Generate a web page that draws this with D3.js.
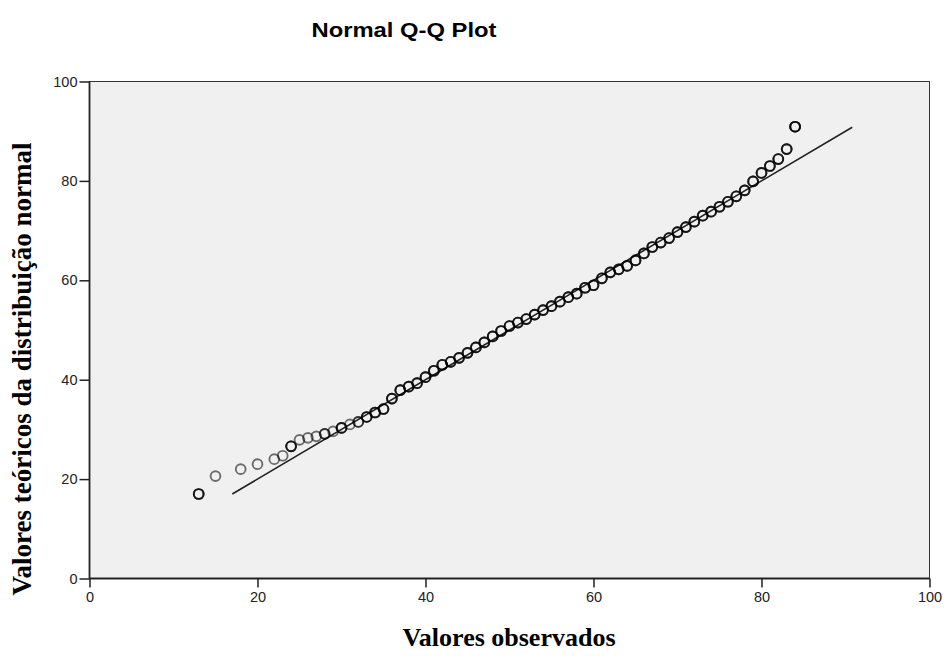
<!DOCTYPE html>
<html>
<head>
<meta charset="utf-8">
<script src="https://cdn.jsdelivr.net/npm/d3@7"></script>
<style>
  body { margin: 0; background: #fff; }
  svg { display: block; }
</style>
</head>
<body>
<svg id="chart" width="946" height="656"></svg>
<script>
// valores observados (x) e valores esperados da normal (y)
const observed = [13, 15, 18, 20, 22, 23, 24, 25, 26, 27, 28, 29, 30, 31, 32, 33, 34, 35,
    36, 37, 38, 39, 40, 41, 42, 43, 44, 45, 46, 47, 48, 49, 50, 51, 52, 53, 54, 55,
    56, 57, 58, 59, 60, 61, 62, 63, 64, 65, 66, 67, 68, 69, 70, 71, 72, 73, 74, 75,
    76, 77, 78, 79, 80, 81, 82, 83, 84];
const expected = [17.0, 20.6, 22.0, 23.0, 24.0, 24.7, 26.6, 27.9, 28.3, 28.6, 29.1, 29.6, 30.3, 31.0, 31.5, 32.5, 33.4, 34.1,
    36.2, 37.9, 38.6, 39.3, 40.5, 41.8, 43.0, 43.6, 44.4, 45.4, 46.5, 47.5, 48.7, 49.8, 50.8, 51.5, 52.2, 53.1, 54.0, 54.8,
    55.7, 56.6, 57.3, 58.5, 59.0, 60.4, 61.6, 62.2, 62.9, 64.0, 65.4, 66.7, 67.6, 68.5, 69.7, 70.7, 71.8, 73.0, 73.8, 74.8,
    75.8, 76.9, 78.1, 79.9, 81.6, 83.0, 84.4, 86.4, 90.9];
// quantas vezes cada ponto se sobrepõe (mais escuro = mais casos)
const counts = [3, 1, 1, 1, 1, 1, 3, 1, 1, 1, 2, 1, 3, 1, 2, 3, 3, 3,
    3, 3, 3, 3, 3, 3, 3, 3, 3, 3, 3, 3, 3, 3, 3, 3, 3, 3, 3, 3,
    3, 3, 3, 3, 3, 3, 3, 3, 3, 3, 3, 3, 3, 3, 3, 3, 3, 3, 3, 3,
    3, 3, 3, 3, 3, 3, 3, 3, 4];
// linha de referência normal
const lineX = [17.0, 90.8];
const lineY = [17.0, 90.8];
const ticks = [0, 20, 40, 60, 80, 100];

const svg = d3.select("#chart");
const plotL = 89.5, plotR = 929.5, plotT = 81.5, plotB = 578.5;

const x = d3.scaleLinear().domain([0, 100]).range([plotL, plotR]);
const y = d3.scaleLinear().domain([0, 100]).range([plotB, plotT]);

// fundo da área do gráfico
svg.append("rect")
    .attr("x", plotL).attr("y", plotT)
    .attr("width", plotR - plotL).attr("height", plotB - plotT)
    .attr("fill", "#f0f0f0")
    .attr("stroke", "#333")
    .attr("stroke-width", 1);

// eixos
const xAxis = svg.append("g")
    .attr("transform", `translate(0,${plotB})`)
    .call(d3.axisBottom(x).tickValues(ticks).tickSize(9).tickPadding(4));
const yAxis = svg.append("g")
    .attr("transform", `translate(${plotL},0)`)
    .call(d3.axisLeft(y).tickValues(ticks).tickSize(10).tickPadding(2));

[xAxis, yAxis].forEach(g => {
    g.select(".domain").attr("stroke", "#222").attr("stroke-width", 1.8);
    g.selectAll(".tick line").attr("stroke", "#222").attr("stroke-width", 1.5);
    g.selectAll(".tick text")
        .attr("fill", "#222")
        .style("font-family", "'Liberation Sans', Arial, sans-serif")
        .style("font-size", "14.5px");
});
xAxis.select(".domain").attr("d", `M${plotL},0H${plotR}`);
yAxis.select(".domain").attr("d", `M0,${plotB}V${plotT}`);

// linha de referência
svg.append("line")
    .attr("x1", x(lineX[0])).attr("y1", y(lineY[0]))
    .attr("x2", x(lineX[1])).attr("y2", y(lineY[1]))
    .attr("stroke", "#222")
    .attr("stroke-width", 1.6);

// pontos (desenhados uma vez por caso sobreposto)
const pts = observed.flatMap((d, i) => d3.range(counts[i]).map(() => ({ x: d, y: expected[i] })));
svg.append("g")
    .selectAll("circle")
    .data(pts)
    .enter().append("circle")
    .attr("cx", d => x(d.x))
    .attr("cy", d => y(d.y))
    .attr("r", 4.9)
    .attr("fill", "none")
    .attr("stroke", "#000")
    .attr("stroke-opacity", 0.55)
    .attr("stroke-width", 1.9);

// títulos
svg.append("text")
    .attr("x", 404).attr("y", 37)
    .attr("text-anchor", "middle")
    .attr("textLength", 185)
    .attr("lengthAdjust", "spacingAndGlyphs")
    .style("font-family", "'Liberation Sans', Arial, sans-serif")
    .style("font-weight", "bold")
    .style("font-size", "21px")
    .text("Normal Q-Q Plot");

svg.append("text")
    .attr("x", 509).attr("y", 646)
    .attr("text-anchor", "middle")
    .style("font-family", "'Liberation Serif', 'Times New Roman', serif")
    .style("font-weight", "bold")
    .style("font-size", "26px")
    .text("Valores observados");

svg.append("text")
    .attr("transform", "translate(31,369) rotate(-90)")
    .attr("text-anchor", "middle")
    .style("font-family", "'Liberation Serif', 'Times New Roman', serif")
    .style("font-weight", "bold")
    .style("font-size", "27px")
    .text("Valores teóricos da distribuição normal");
</script>
</body>
</html>
